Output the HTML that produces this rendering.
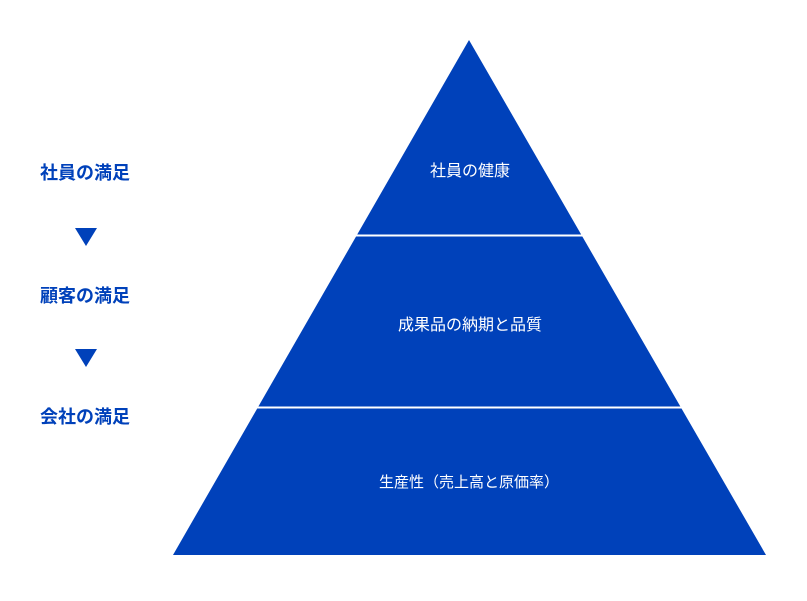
<!DOCTYPE html>
<html><head><meta charset="utf-8"><style>
body{margin:0;width:807px;height:596px;background:#fff;overflow:hidden}
</style></head><body>
<svg width="807" height="596" xmlns="http://www.w3.org/2000/svg" style="font-family:'Liberation Sans','Noto Sans CJK JP',sans-serif">
<polygon points="469,40 766,555 173,555" fill="#0041BA"/>
<line x1="340" y1="235.5" x2="600" y2="235.5" stroke="#fff" stroke-width="2"/>
<line x1="240" y1="407.5" x2="700" y2="407.5" stroke="#fff" stroke-width="2"/>
<g fill="#fff" font-size="16" text-anchor="middle">
<text x="470" y="176">社員の健康</text>
<text x="470" y="330">成果品の納期と品質</text>
<text x="469" y="487" font-size="15">生産性（売上高と原価率）</text>
</g>
<g fill="#0041BA" font-size="18" font-weight="bold" text-anchor="middle">
<text x="85" y="179">社員の満足</text>
<text x="85" y="302">顧客の満足</text>
<text x="85" y="423">会社の満足</text>
</g>
<polygon points="75,228 97,228 86,246" fill="#0041BA"/>
<polygon points="75,349 97,349 86,367" fill="#0041BA"/>
</svg>
</body></html>
